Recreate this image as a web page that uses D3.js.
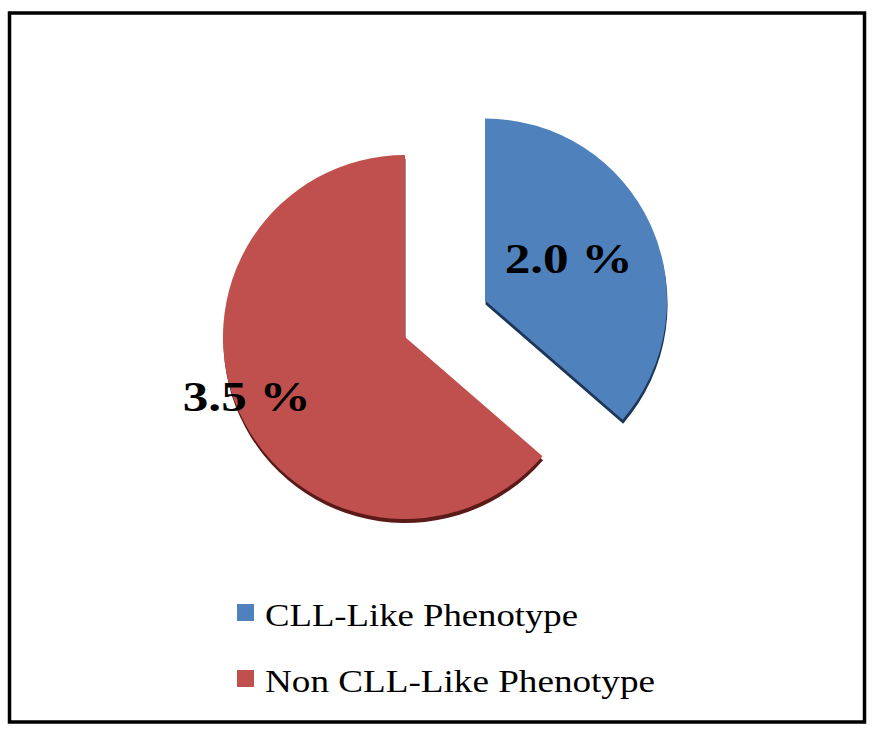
<!DOCTYPE html>
<html><head><meta charset="utf-8">
<script src="https://cdn.jsdelivr.net/npm/d3@7"></script>
<style>body{margin:0;background:#fff}</style>
</head><body>
<svg id="c" width="872" height="734"></svg>
<script>
const categories = ["CLL-Like Phenotype", "Non CLL-Like Phenotype"];
const values = [2.0, 3.5];
const valueLabels = ["2.0 %", "3.5 %"];
const colors = ["#4f81bd", "#c0504d"];
const edgeColors = ["#1d3557", "#5a1a18"];

const svg = d3.select("#c");
svg.append("rect").attr("x", 9.5).attr("y", 13).attr("width", 855).attr("height", 709)
  .attr("fill", "#fff").attr("stroke", "#000").attr("stroke-width", 3.5);

const cx = 405, cy = 337, R = 182;
const explode = [88, 0];
const labelR = [92, 174];
const labelDy = ["0.25em", "0.05em"];
const serif = "'Liberation Serif', 'Times New Roman', Times, serif";

const pie = d3.pie().sort(null).startAngle(0).endAngle(2 * Math.PI);
const arcs = pie(values);
const arc = d3.arc().innerRadius(0).outerRadius(R);

const g = svg.append("g").attr("transform", `translate(${cx},${cy})`);
const slices = g.selectAll("g.slice").data(arcs).join("g").attr("class", "slice")
  .attr("transform", (d, i) => {
    const m = (d.startAngle + d.endAngle) / 2;
    return `translate(${explode[i] * Math.sin(m)},${-explode[i] * Math.cos(m)})`;
  });
slices.append("path").attr("d", arc).attr("fill", (d, i) => edgeColors[i])
  .attr("transform", "translate(0.5,4)");
slices.append("path").attr("d", arc).attr("fill", (d, i) => colors[i]);

slices.append("text")
  .attr("x", (d, i) => labelR[i] * Math.sin((d.startAngle + d.endAngle) / 2))
  .attr("y", (d, i) => -labelR[i] * Math.cos((d.startAngle + d.endAngle) / 2))
  .attr("dy", (d, i) => labelDy[i])
  .attr("text-anchor", "middle")
  .attr("font-family", serif)
  .attr("font-weight", "bold").attr("font-size", 43)
  .attr("fill", "#000")
  .attr("textLength", 128).attr("lengthAdjust", "spacingAndGlyphs")
  .text((d, i) => valueLabels[i]);

const lg = svg.append("g");
const rows = lg.selectAll("g").data(categories).join("g")
  .attr("transform", (d, i) => `translate(237,${604 + i * 66})`);
rows.append("rect").attr("width", 17).attr("height", 17).attr("fill", (d, i) => colors[i]);
rows.append("text").attr("x", 28).attr("y", 22)
  .attr("font-family", serif)
  .attr("font-size", 31).attr("fill", "#000")
  .attr("textLength", (d, i) => [313, 390][i]).attr("lengthAdjust", "spacingAndGlyphs")
  .text(d => d);
</script>
</body></html>
